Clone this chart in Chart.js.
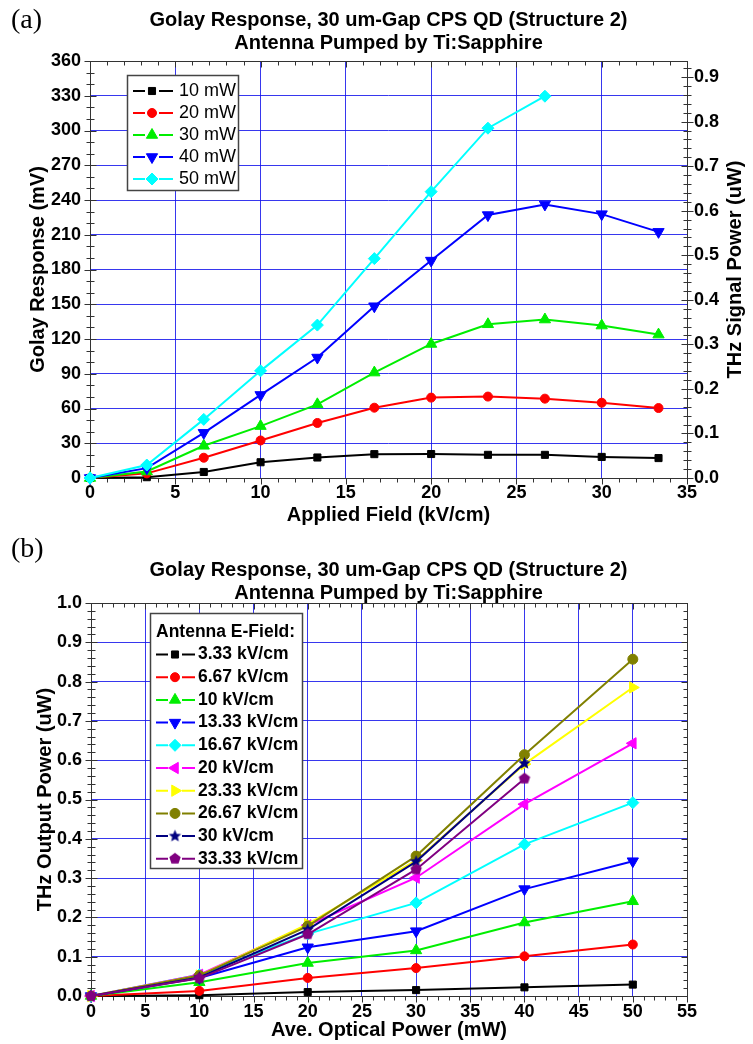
<!DOCTYPE html>
<html>
<head>
<meta charset="utf-8">
<script src="https://cdn.jsdelivr.net/npm/chart.js@4.4.1/dist/chart.umd.min.js"></script>
<style>
  html, body { margin: 0; padding: 0; background: #fff; }
  #page { position: relative; width: 753px; height: 1044px; overflow: hidden; background: #fff; }
  canvas { position: absolute; left: 0; }
  .tag { position: absolute; left: 11px; font-family: "Liberation Serif", "Times New Roman", serif; font-size: 28px; line-height: 30px; color: #000; }
  .ttl { position: absolute; left: 0; width: 777px; text-align: center; font-family: "Liberation Sans", Arial, sans-serif; font-weight: bold; font-size: 20px; line-height: 23px; color: #000; }
</style>
</head>
<body>
<div id="page">
  <canvas id="chartA" width="753" height="530" style="top:0"></canvas>
  <canvas id="chartB" width="753" height="514" style="top:530px"></canvas>
  <div class="tag" style="top:4px">(a)</div>
  <div class="ttl" style="top:8px">Golay Response, 30 um-Gap CPS QD (Structure 2)<br>Antenna Pumped by Ti:Sapphire</div>
  <div class="tag" style="top:533px">(b)</div>
  <div class="ttl" style="top:558px">Golay Response, 30 um-Gap CPS QD (Structure 2)<br>Antenna Pumped by Ti:Sapphire</div>
</div>
<script>
// ---- (a) Golay response versus applied field, one series per pump power ----
const fieldKVcm = [0, 3.33, 6.67, 10, 13.33, 16.67, 20, 23.33, 26.67, 30, 33.33];
const golay10mW = [0, 0.7, 5.2, 13.6, 17.7, 20.6, 20.7, 20.0, 20.0, 18.2, 17.2];
const golay20mW = [0, 4.0, 17.5, 32.4, 47.5, 60.7, 69.4, 70.3, 68.5, 65.0, 60.4];
const golay30mW = [0, 5.6, 27.8, 44.8, 63.6, 91.0, 115.7, 132.7, 136.8, 131.6, 123.8];
const golay40mW = [0, 8.5, 39.0, 71.7, 104.0, 148.3, 187.7, 227.0, 236.2, 227.8, 212.5];
const golay50mW = [0, 11.2, 50.6, 92.5, 132.0, 189.4, 247.2, 302.0, 329.6];
const powerLabels = ['10 mW', '20 mW', '30 mW', '40 mW', '50 mW'];

// ---- (b) THz output power versus average optical power, one series per field ----
const pumpPowerMW = [0, 10, 20, 30, 40, 50];
const thzAt3_33  = [0, 0.002, 0.010, 0.015, 0.022, 0.029];
const thzAt6_67  = [0, 0.013, 0.046, 0.071, 0.101, 0.131];
const thzAt10    = [0, 0.035, 0.084, 0.116, 0.187, 0.241];
const thzAt13_33 = [0, 0.046, 0.124, 0.165, 0.272, 0.343];
const thzAt16_67 = [0, 0.054, 0.158, 0.237, 0.386, 0.492];
const thzAt20    = [0, 0.054, 0.180, 0.301, 0.488, 0.643];
const thzAt23_33 = [0, 0.052, 0.183, 0.345, 0.590, 0.785];
const thzAt26_67 = [0, 0.052, 0.178, 0.356, 0.614, 0.857];
const thzAt30    = [0, 0.047, 0.169, 0.342, 0.592];
const thzAt33_33 = [0, 0.045, 0.157, 0.322, 0.553];
const fieldLabels = ['3.33 kV/cm', '6.67 kV/cm', '10 kV/cm', '13.33 kV/cm', '16.67 kV/cm',
                     '20 kV/cm', '23.33 kV/cm', '26.67 kV/cm', '30 kV/cm', '33.33 kV/cm'];

// ---- axis ranges ----
const golayAxis = { min: 0, max: 360, step: 30, minor: 10 };
const uWPerMv = 0.0026;               // Golay calibration used by the right-hand axis
const fieldAxis = { min: 0, max: 35, step: 5, minor: 1 };
const powerAxis = { min: 0, max: 55, step: 5, minor: 1 };
const thzAxis = { min: 0, max: 1.0, step: 0.1, minor: 0.02 };

const FONT = '"Liberation Sans", Arial, sans-serif';
Chart.defaults.font.family = FONT;
Chart.defaults.color = '#000';
const GRID = 'rgba(20,20,235,0.85)';
const tickFont = { family: FONT, size: 18, weight: 'bold' };
const axisTitleFont = { family: FONT, size: 20, weight: 'bold' };

// Filled marker shapes that Chart.js has no built-in style for
function shapeImage(color, r, points, inner) {
  const s = Math.ceil(r * 2 + 2);
  const c = document.createElement('canvas');
  c.width = s; c.height = s;
  const g = c.getContext('2d');
  g.translate(s / 2, s / 2);
  g.beginPath();
  const n = inner ? points * 2 : points;
  for (let i = 0; i < n; i++) {
    const rr = inner && i % 2 ? r * inner : r;
    const a = -Math.PI / 2 + i * 2 * Math.PI / n;
    g.lineTo(rr * Math.cos(a), rr * Math.sin(a));
  }
  g.closePath();
  g.fillStyle = color;
  g.fill();
  return c;
}

function makeSeries(xs, ys, label, color, style, radius, rotation, index, total) {
  return {
    label: label,
    data: ys.map((v, i) => ({ x: xs[i], y: v })),
    borderColor: color,
    backgroundColor: color,
    borderWidth: 2,
    pointStyle: style,
    pointRotation: rotation || 0,
    pointRadius: radius,
    pointHoverRadius: radius,
    pointBackgroundColor: color,
    pointBorderColor: color,
    pointBorderWidth: 1,
    tension: 0,
    clip: false,
    order: total - index
  };
}

// Plot frame with major/minor tick marks on all four sides
const axisFrame = {
  id: 'axisFrame',
  beforeDatasetsDraw(chart, args, o) {
    const { ctx, chartArea: a, scales } = chart;
    const L = Math.round(a.left) + 0.5, R = Math.round(a.right) + 0.5;
    const T = Math.round(a.top) + 0.5, B = Math.round(a.bottom) + 0.5;
    ctx.save();
    ctx.strokeStyle = o.lineColor;
    ctx.lineWidth = 1;
    ctx.strokeRect(L, T, R - L, B - T);
    ctx.beginPath();
    for (const s of o.sides) {
      const sc = scales[s.scale];
      const n = Math.floor((sc.max - sc.min) / s.minor + 1e-6);
      for (let i = 0; i <= n; i++) {
        const v = sc.min + i * s.minor;
        const q = v / s.major;
        const isMajor = Math.abs(q - Math.round(q)) < 1e-6;
        const out = isMajor ? s.outMajor : s.outMinor;
        const inn = isMajor ? s.inMajor : s.inMinor;
        const p = Math.round(sc.getPixelForValue(v)) + 0.5;
        if (s.edge === 'bottom') { ctx.moveTo(p, B - inn); ctx.lineTo(p, B + out); }
        else if (s.edge === 'top') { ctx.moveTo(p, T - out); ctx.lineTo(p, T + inn); }
        else if (s.edge === 'left') { ctx.moveTo(L - out, p); ctx.lineTo(L + inn, p); }
        else { ctx.moveTo(R - inn, p); ctx.lineTo(R + out, p); }
      }
    }
    ctx.stroke();
    ctx.restore();
  }
};

// Boxed legend with line - marker - line samples
const boxLegend = {
  id: 'boxLegend',
  afterDraw(chart, args, o) {
    const ctx = chart.ctx;
    ctx.save();
    ctx.fillStyle = '#fff';
    ctx.fillRect(o.left, o.top, o.width, o.height);
    ctx.strokeStyle = o.frameColor;
    ctx.lineWidth = o.frameWidth;
    ctx.strokeRect(o.left, o.top, o.width, o.height);
    ctx.textBaseline = 'middle';
    ctx.textAlign = 'left';
    ctx.fillStyle = '#000';
    if (o.heading) {
      ctx.font = o.headFont;
      ctx.fillText(o.heading, o.headX, o.headY);
    }
    chart.data.datasets.forEach((ds, i) => {
      const y = o.firstRowY + i * o.rowStep;
      ctx.strokeStyle = ds.borderColor;
      ctx.lineWidth = 2;
      ctx.beginPath();
      ctx.moveTo(o.sampleLeft, y); ctx.lineTo(o.markerX - o.gap, y);
      ctx.moveTo(o.markerX + o.gap, y); ctx.lineTo(o.sampleRight, y);
      ctx.stroke();
      ctx.fillStyle = ds.pointBackgroundColor;
      ctx.strokeStyle = ds.pointBorderColor;
      ctx.lineWidth = 1;
      Chart.helpers.drawPoint(ctx, {
        pointStyle: ds.pointStyle, rotation: ds.pointRotation || 0,
        radius: ds.pointRadius, borderWidth: 1
      }, o.markerX, y);
      ctx.fillStyle = '#000';
      ctx.font = o.textFont;
      ctx.fillText(ds.label, o.textX, y);
    });
    ctx.restore();
  }
};

// Right-hand axis title reading bottom to top
const sideTitle = {
  id: 'sideTitle',
  afterDraw(chart, args, o) {
    if (!o.text) return;
    const ctx = chart.ctx;
    ctx.save();
    ctx.translate(o.x, o.y);
    ctx.rotate(-Math.PI / 2);
    ctx.font = o.textFont;
    ctx.fillStyle = '#000';
    ctx.textAlign = 'center';
    ctx.textBaseline = 'middle';
    ctx.fillText(o.text, 0, 0);
    ctx.restore();
  }
};

// ---------------- Chart (a) ----------------
const seriesA = [
  [golay10mW, '#000000', 'rect', 5, 0],
  [golay20mW, '#ff0000', 'circle', 4.5, 0],
  [golay30mW, '#00ee00', 'triangle', 6.5, 0],
  [golay40mW, '#0000ff', 'triangle', 6.5, 180],
  [golay50mW, '#00ffff', 'rectRot', 6, 0]
].map((s, i, all) => makeSeries(fieldKVcm, s[0], powerLabels[i], s[1], s[2], s[3], s[4], i, all.length));

new Chart(document.getElementById('chartA'), {
  type: 'line',
  data: { datasets: seriesA },
  options: {
    responsive: false,
    animation: false,
    devicePixelRatio: 1,
    events: [],
    layout: { padding: { top: 61, left: 0, right: 0, bottom: 0 } },
    plugins: {
      legend: { display: false },
      tooltip: { enabled: false },
      title: { display: false },
      axisFrame: {
        lineColor: '#333',
        sides: [
          { scale: 'x', edge: 'bottom', minor: fieldAxis.minor, major: fieldAxis.step, outMajor: 6, outMinor: 4, inMajor: 0, inMinor: 0 },
          { scale: 'x', edge: 'top', minor: fieldAxis.minor, major: fieldAxis.step, outMajor: 0, outMinor: 0, inMajor: 6, inMinor: 4 },
          { scale: 'y', edge: 'left', minor: golayAxis.minor, major: golayAxis.step, outMajor: 6, outMinor: 4, inMajor: 6, inMinor: 4 },
          { scale: 'y2', edge: 'right', minor: 0.02, major: 0.1, outMajor: 6, outMinor: 4, inMajor: 6, inMinor: 4 }
        ]
      },
      boxLegend: {
        left: 127.5, top: 75.5, width: 111, height: 115,
        frameColor: '#444', frameWidth: 1.5,
        firstRowY: 91, rowStep: 22,
        sampleLeft: 133, sampleRight: 173, markerX: 152, gap: 7, textX: 179,
        textFont: '18px ' + FONT
      },
      sideTitle: { text: 'THz Signal Power (uW)', x: 735, y: 269.5, textFont: 'bold 20px ' + FONT }
    },
    scales: {
      x: {
        type: 'linear', min: fieldAxis.min, max: fieldAxis.max,
        ticks: { stepSize: fieldAxis.step, padding: 4, font: tickFont, color: '#000', autoSkip: false, maxRotation: 0 },
        grid: { color: GRID, drawTicks: false },
        border: { display: false },
        title: { display: true, text: 'Applied Field (kV/cm)', font: axisTitleFont, color: '#000', padding: { top: 0, bottom: 3 } },
        afterFit(s) { s.height = 52; }
      },
      y: {
        type: 'linear', position: 'left', min: golayAxis.min, max: golayAxis.max,
        ticks: { stepSize: golayAxis.step, padding: 9, font: tickFont, color: '#000' },
        grid: { color: GRID, drawTicks: false },
        border: { display: false },
        title: { display: true, text: 'Golay Response (mV)', font: axisTitleFont, color: '#000', padding: { top: 26, bottom: 0 } },
        afterFit(s) { s.width = 90; }
      },
      y2: {
        type: 'linear', position: 'right', min: golayAxis.min * uWPerMv, max: golayAxis.max * uWPerMv,
        ticks: { stepSize: 0.1, includeBounds: false, padding: 7, font: tickFont, color: '#000',
                 callback: v => v.toFixed(1) },
        grid: { display: false, drawOnChartArea: false, drawTicks: false },
        border: { display: false },
        afterFit(s) { s.width = 66; }
      }
    }
  },
  plugins: [axisFrame, boxLegend, sideTitle]
});

// ---------------- Chart (b) ----------------
const starMark = shapeImage('#000080', 6.5, 5, 0.45);
const pentagonMark = shapeImage('#800080', 6, 5, 0);
const seriesB = [
  [thzAt3_33,  '#000000', 'rect', 5, 0],
  [thzAt6_67,  '#ff0000', 'circle', 4.5, 0],
  [thzAt10,    '#00ee00', 'triangle', 6.5, 0],
  [thzAt13_33, '#0000ff', 'triangle', 6.5, 180],
  [thzAt16_67, '#00ffff', 'rectRot', 6, 0],
  [thzAt20,    '#ff00ff', 'triangle', 6.5, 270],
  [thzAt23_33, '#ffff00', 'triangle', 6.5, 90],
  [thzAt26_67, '#808000', 'circle', 5, 0],
  [thzAt30,    '#000080', starMark, 6, 0],
  [thzAt33_33, '#800080', pentagonMark, 6, 0]
].map((s, i, all) => makeSeries(pumpPowerMW, s[0], fieldLabels[i], s[1], s[2], s[3], s[4], i, all.length));

new Chart(document.getElementById('chartB'), {
  type: 'line',
  data: { datasets: seriesB },
  options: {
    responsive: false,
    animation: false,
    devicePixelRatio: 1,
    events: [],
    layout: { padding: { top: 73, left: 0, right: 66, bottom: 0 } },
    plugins: {
      legend: { display: false },
      tooltip: { enabled: false },
      title: { display: false },
      axisFrame: {
        lineColor: '#333',
        sides: [
          { scale: 'x', edge: 'bottom', minor: powerAxis.minor, major: powerAxis.step, outMajor: 6, outMinor: 4, inMajor: 0, inMinor: 0 },
          { scale: 'x', edge: 'top', minor: powerAxis.minor, major: powerAxis.step, outMajor: 0, outMinor: 0, inMajor: 6, inMinor: 4 },
          { scale: 'y', edge: 'left', minor: thzAxis.minor, major: thzAxis.step, outMajor: 6, outMinor: 4, inMajor: 6, inMinor: 4 },
          { scale: 'y', edge: 'right', minor: thzAxis.minor, major: thzAxis.step, outMajor: 0, outMinor: 0, inMajor: 6, inMinor: 4 }
        ]
      },
      boxLegend: {
        left: 150.5, top: 83.5, width: 152, height: 255,
        frameColor: '#444', frameWidth: 1.5,
        heading: 'Antenna E-Field:', headX: 156, headY: 102, headFont: 'bold 17.5px ' + FONT,
        firstRowY: 124.5, rowStep: 22.7,
        sampleLeft: 156, sampleRight: 195, markerX: 175, gap: 7, textX: 198,
        textFont: 'bold 17.5px ' + FONT
      },
      sideTitle: { text: '' }
    },
    scales: {
      x: {
        type: 'linear', min: powerAxis.min, max: powerAxis.max,
        ticks: { stepSize: powerAxis.step, padding: 5, font: tickFont, color: '#000', autoSkip: false, maxRotation: 0 },
        grid: { color: GRID, drawTicks: false },
        border: { display: false },
        title: { display: true, text: 'Ave. Optical Power (mW)', font: axisTitleFont, color: '#000', padding: { top: 0, bottom: 2 } },
        afterFit(s) { s.height = 48; }
      },
      y: {
        type: 'linear', position: 'left', min: thzAxis.min, max: thzAxis.max,
        ticks: { stepSize: thzAxis.step, padding: 9, font: tickFont, color: '#000', callback: v => v.toFixed(1) },
        grid: { color: GRID, drawTicks: false },
        border: { display: false },
        title: { display: true, text: 'THz Output Power (uW)', font: axisTitleFont, color: '#000', padding: { top: 33, bottom: 0 } },
        afterFit(s) { s.width = 91; }
      }
    }
  },
  plugins: [axisFrame, boxLegend, sideTitle]
});
</script>
</body>
</html>
